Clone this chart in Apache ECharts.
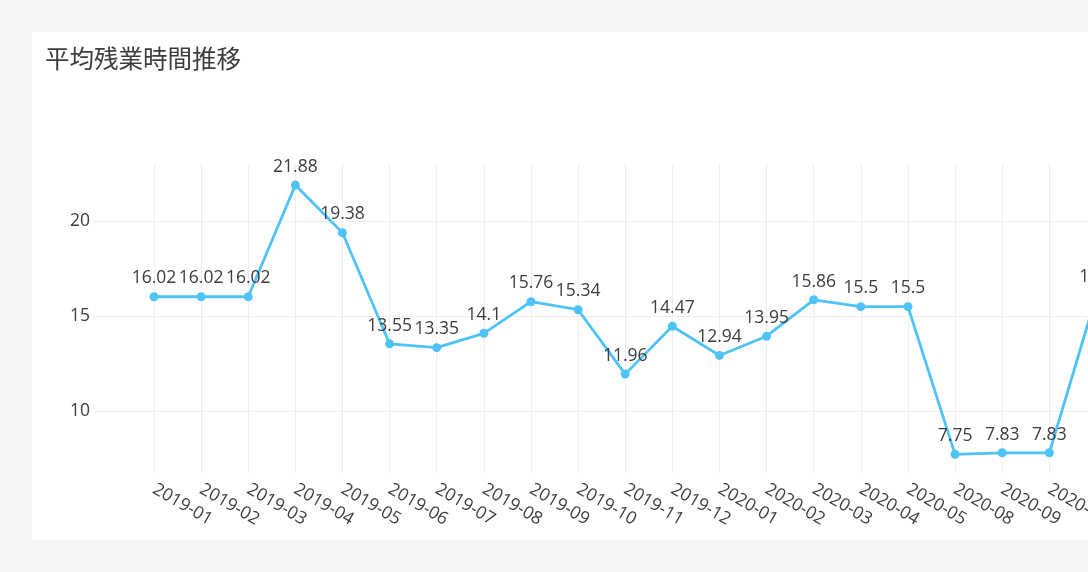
<!DOCTYPE html>
<html>
<head>
<meta charset="utf-8">
<script src="https://cdn.jsdelivr.net/npm/echarts@6/dist/echarts.min.js"></script>
<style>
  html, body { margin: 0; padding: 0; background: #f7f6f4; width: 1088px; height: 572px; overflow: hidden; }
  #card { position: absolute; left: 32px; top: 32px; width: 1230px; height: 508px; background: #ffffff; }
  #chart { width: 1230px; height: 508px; }
</style>
</head>
<body>
<div id="card"><div id="chart"></div></div>
<script>
const titleText = '平均残業時間推移';
const categories = ['2019-01','2019-02','2019-03','2019-04','2019-05','2019-06','2019-07','2019-08','2019-09','2019-10','2019-11','2019-12','2020-01','2020-02','2020-03','2020-04','2020-05','2020-08','2020-09','2020-10','2020-11'];
const overtime = [16.02,16.02,16.02,21.88,19.38,13.55,13.35,14.1,15.76,15.34,11.96,14.47,12.94,13.95,15.86,15.5,15.5,7.75,7.83,7.83,16.1];
const yTicks = [10, 15, 20];

const FONT = "'Open Sans', 'Noto Sans CJK JP', sans-serif";
const TXT = '#3d3d3d';
const GRIDC = '#eeeeee';
const xIdx = categories.map((c, i) => i);
const seriesData = overtime.map((v, i) => [i, v]);

const chart = echarts.init(document.getElementById('chart'), null, { renderer: 'canvas' });
chart.setOption({
  animation: false,
  textStyle: { fontFamily: FONT },
  title: {
    text: titleText,
    left: 8, top: 12,
    textStyle: { fontFamily: FONT, fontSize: 24.5, fontWeight: 'normal', color: TXT }
  },
  grid: { left: 61, top: 131, height: 310, width: 1097.7, containLabel: false },
  xAxis: {
    type: 'value',
    min: -1.294, max: 22,
    axisLine: { show: false },
    axisTick: { show: false, customValues: xIdx },
    splitLine: { show: true, lineStyle: { color: GRIDC, width: 1 } },
    axisLabel: {
      customValues: xIdx,
      formatter: v => categories[Math.round(v)] || '',
      rotate: -30,
      margin: 15,
      color: TXT, fontSize: 17.5, fontFamily: FONT
    }
  },
  yAxis: {
    type: 'value',
    min: 6.77, max: 23.04,
    axisLine: { show: false },
    axisTick: { show: false, customValues: yTicks },
    splitLine: { show: true, lineStyle: { color: GRIDC, width: 1 } },
    axisLabel: { customValues: yTicks, margin: 3, color: TXT, fontSize: 17.5, fontFamily: FONT }
  },
  series: [{
    type: 'line',
    data: seriesData,
    symbol: 'circle',
    symbolSize: 9,
    lineStyle: { color: '#4fc3f7', width: 2.8 },
    itemStyle: { color: '#4fc3f7' },
    label: {
      show: true, position: 'top', distance: 5,
      formatter: p => String(p.value[1]),
      color: TXT, fontSize: 17.5, fontFamily: FONT
    }
  }]
});
</script>
</body>
</html>
